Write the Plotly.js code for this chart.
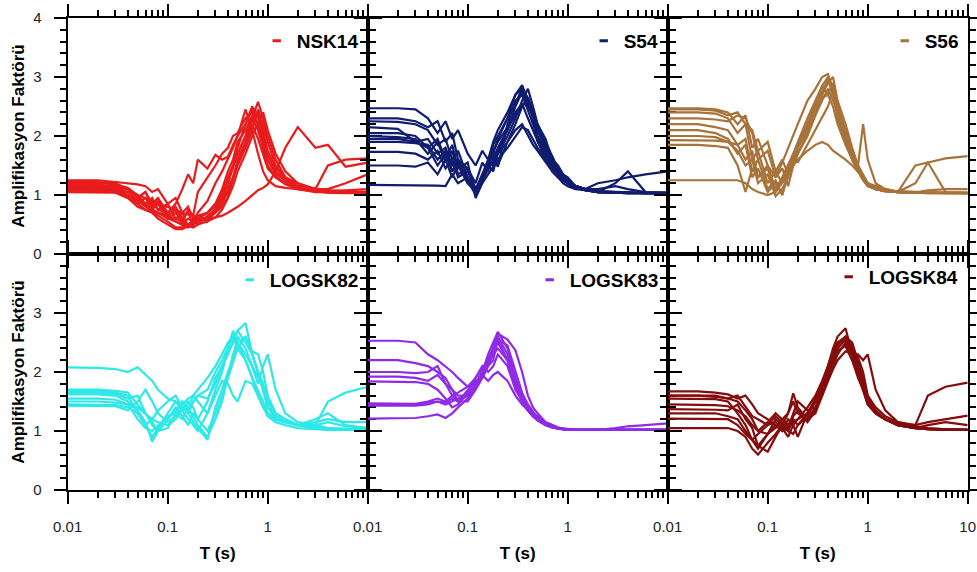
<!DOCTYPE html>
<html>
<head>
<meta charset="utf-8">
<script src="https://cdn.plot.ly/plotly-3.0.1.min.js"></script>
<style>html,body{margin:0;padding:0;background:#fff}#chart{width:977px;height:572px}</style>
</head>
<body>
<div id="chart"></div>
<script>
// Period grid (s)
const T = [0.01,0.02,0.03,0.04,0.05,0.06,0.07,0.08,0.1,0.12,0.14,0.16,0.18,0.2,0.25,0.3,0.35,0.4,0.45,0.5,0.6,0.7,0.8,0.9,1,1.2,1.5,2,3,4,6,10];

const stations = ["NSK14","S54","S56","LOGSK82","LOGSK83","LOGSK84"];
const colors = ["#e81c1c","#101c6e","#a8733a","#2ee8e8","#8f2be6","#850c0c"];

const NSK14 = [
 [1.22,1.22,1.2,1.1,0.95,0.85,0.9,0.75,0.7,0.85,1.1,1.35,1.2,1.6,1.45,1.68,1.6,1.65,1.85,2.0,2.45,2.1,1.7,1.4,1.25,1.15,1.12,1.1,1.05,1.05,1.04,1.03],
 [1.12,1.12,1.1,1.0,0.85,0.95,0.75,0.85,0.6,0.7,0.55,0.75,0.65,1.05,1.3,1.5,1.7,1.8,2.0,2.05,2.3,2.4,2.2,1.8,1.5,1.3,1.2,1.1,1.08,1.05,1.04,1.03],
 [1.18,1.17,1.15,1.12,0.95,1.05,0.8,0.9,0.65,0.75,0.5,0.6,0.55,0.7,0.9,1.2,1.4,1.6,1.8,2.0,2.2,2.5,2.35,2.0,1.7,1.4,1.25,1.15,1.1,1.08,1.06,1.05],
 [1.08,1.08,1.06,1.0,0.9,0.8,0.72,0.65,0.55,0.45,0.45,0.5,0.55,0.6,0.7,0.85,1.05,1.3,1.5,1.7,2.0,2.3,2.58,2.3,2.0,1.6,1.3,1.15,1.1,1.05,1.04,1.03],
 [1.2,1.2,1.18,1.12,1.0,0.85,0.95,0.75,0.85,0.6,0.7,0.45,0.6,0.5,0.65,0.75,0.9,1.1,1.3,1.5,1.8,2.1,2.45,2.2,1.9,1.5,1.3,1.2,1.1,1.06,1.05,1.04],
 [1.05,1.05,1.04,0.95,0.85,0.75,0.7,0.6,0.5,0.42,0.42,0.48,0.52,0.55,0.6,0.7,0.8,0.95,1.15,1.4,1.7,2.0,2.2,2.4,2.1,1.7,1.4,1.2,1.1,1.06,1.05,1.04],
 [1.1,1.1,1.08,1.05,1.0,0.95,0.9,0.85,0.8,0.75,0.7,0.68,0.65,0.62,0.6,0.62,0.65,0.7,0.75,0.8,0.9,1.0,1.08,1.12,1.18,1.4,1.8,2.15,1.8,1.85,1.48,1.55],
 [1.15,1.15,1.12,1.05,0.9,0.85,0.75,0.7,0.65,0.6,0.55,0.5,0.55,0.6,0.7,0.8,1.0,1.2,1.45,1.7,2.0,2.3,2.1,1.8,1.5,1.3,1.2,1.12,1.1,1.5,1.6,1.62],
 [1.1,1.1,1.05,0.95,0.8,0.75,0.7,0.7,0.65,0.55,0.5,0.45,0.5,0.55,0.6,0.75,0.95,1.2,1.5,1.8,2.2,2.45,2.3,2.0,1.7,1.4,1.25,1.12,1.1,1.1,1.2,1.35],
 [1.25,1.25,1.22,1.2,1.18,1.15,1.05,1.1,0.85,0.95,0.7,0.8,0.6,0.65,0.7,0.85,1.1,1.4,1.6,1.9,2.1,2.35,2.2,1.9,1.6,1.35,1.25,1.15,1.08,1.06,1.05,1.05],
 [1.08,1.07,1.05,0.98,0.9,0.82,0.75,0.7,0.6,0.55,0.5,0.48,0.45,0.5,0.55,0.62,0.75,0.95,1.25,1.55,1.85,2.2,1.95,1.7,1.45,1.3,1.18,1.1,1.06,1.04,1.03,1.03],
 [1.15,1.14,1.12,1.1,0.95,1.05,0.85,0.95,0.7,0.8,0.6,0.7,0.5,0.6,0.55,0.72,0.85,1.05,1.3,1.6,1.9,2.25,2.4,2.1,1.75,1.45,1.3,1.15,1.1,1.07,1.08,1.1]
];

const S54 = [
 [2.47,2.47,2.45,2.3,2.05,2.25,1.95,2.1,1.7,1.5,1.75,1.6,1.9,2.1,2.4,2.7,2.86,2.6,2.3,2.0,1.75,1.4,1.3,1.2,1.15,1.1,1.08,1.05,1.04,1.03,1.03,1.03],
 [2.3,2.3,2.25,2.15,2.25,1.9,2.05,1.6,1.45,1.2,1.55,1.4,1.85,2.0,2.3,2.55,2.8,2.5,2.35,1.9,1.7,1.5,1.45,1.25,1.2,1.15,1.1,1.06,1.05,1.04,1.03,1.03],
 [2.25,2.24,2.2,2.1,1.85,1.95,1.6,1.75,1.3,1.05,1.35,1.6,1.5,1.75,2.1,2.5,2.75,2.6,2.3,2.1,1.8,1.55,1.4,1.3,1.25,1.15,1.1,1.05,1.05,1.04,1.03,1.03],
 [2.05,2.05,2.0,1.8,1.95,1.6,1.85,1.45,1.55,0.95,1.2,1.5,1.4,1.7,2.0,2.3,2.6,2.8,2.5,2.2,1.95,1.6,1.5,1.35,1.25,1.15,1.1,1.06,1.05,1.04,1.03,1.03],
 [2.0,1.98,1.95,1.7,1.9,1.55,1.75,1.35,1.45,1.1,1.35,1.5,1.75,1.5,1.9,2.2,2.5,2.6,2.4,2.1,1.8,1.65,1.4,1.3,1.2,1.12,1.08,1.05,1.2,1.4,1.05,1.04],
 [1.95,1.95,1.9,1.8,1.5,1.7,1.4,1.6,1.25,1.05,1.25,1.45,1.6,1.8,2.1,2.4,2.55,2.3,2.1,1.9,1.6,1.5,1.3,1.25,1.2,1.15,1.1,1.2,1.25,1.3,1.35,1.4],
 [1.73,1.73,1.7,1.6,1.75,1.45,1.6,1.3,1.4,1.1,1.3,1.55,1.65,1.48,2.2,2.6,2.7,2.45,2.2,1.95,1.65,1.55,1.35,1.25,1.2,1.12,1.08,1.05,1.04,1.03,1.03,1.03],
 [1.5,1.5,1.48,1.55,1.35,1.6,1.3,1.5,1.2,1.05,1.2,1.35,1.5,1.6,1.8,2.0,2.15,2.1,1.95,1.8,1.6,1.45,1.35,1.28,1.2,1.12,1.08,1.05,1.04,1.03,1.03,1.03],
 [1.17,1.17,1.17,1.17,1.16,1.15,1.35,1.2,1.3,1.1,1.3,1.45,1.55,1.7,1.9,2.1,2.2,2.0,1.85,1.75,1.55,1.4,1.3,1.25,1.2,1.12,1.08,1.05,1.04,1.03,1.03,1.03],
 [2.15,2.12,1.9,1.95,1.7,1.8,1.5,1.6,1.25,1.0,1.25,1.55,1.75,1.9,2.15,2.35,2.5,2.65,2.4,2.15,1.85,1.6,1.45,1.3,1.22,1.15,1.1,1.06,1.05,1.04,1.03,1.03],
 [1.9,1.9,1.88,1.85,1.6,1.75,1.4,1.55,1.2,1.1,1.3,1.55,1.7,1.95,2.3,2.7,2.8,2.65,2.4,2.2,1.9,1.65,1.45,1.35,1.3,1.15,1.1,1.1,1.15,1.1,1.05,1.04]
];

const S56 = [
 [2.47,2.47,2.45,2.4,2.2,2.35,1.8,1.95,1.5,1.3,1.55,1.8,2.0,2.2,2.6,2.8,3.0,3.05,2.8,2.5,2.0,1.6,1.4,1.25,1.15,1.1,1.07,1.05,1.04,1.04,1.03,1.03],
 [2.45,2.45,2.43,2.35,2.4,2.2,2.1,1.75,1.9,1.4,1.6,1.35,1.7,1.9,2.3,2.6,2.85,2.7,2.9,2.4,2.1,1.7,1.45,1.3,1.2,1.1,1.07,1.05,1.5,1.55,1.62,1.66],
 [2.4,2.4,2.38,2.3,2.05,2.2,1.6,1.75,1.2,1.4,1.2,1.45,1.6,1.85,2.2,2.55,2.75,2.95,2.7,2.3,1.9,1.6,1.4,1.25,1.15,1.1,1.07,1.05,1.04,1.04,1.03,1.03],
 [2.2,2.2,2.15,2.1,1.85,1.95,1.4,1.6,1.1,1.25,1.0,1.35,1.55,1.8,2.1,2.4,2.7,2.9,3.0,2.6,2.2,1.8,1.5,1.35,1.2,1.1,1.06,1.05,1.2,1.55,1.05,1.04],
 [2.1,2.1,2.05,1.95,1.7,1.85,1.3,1.45,1.05,1.2,1.0,1.4,1.5,1.7,2.0,2.35,2.6,2.8,2.6,2.4,2.0,1.7,1.5,2.2,1.6,1.2,1.1,1.06,1.05,1.04,1.04,1.03],
 [1.93,1.93,1.92,1.9,1.85,1.6,1.75,1.3,1.45,1.05,1.25,1.45,1.65,1.85,2.2,2.5,2.65,2.7,2.5,2.2,1.85,1.6,1.4,1.3,1.2,1.12,1.08,1.05,1.04,1.03,1.03,1.03],
 [1.85,1.85,1.83,1.8,1.5,1.05,1.45,1.3,1.5,1.1,1.3,1.5,1.7,1.55,1.85,2.1,2.3,2.5,2.75,2.5,2.0,1.75,1.5,1.35,1.2,1.1,1.07,1.05,1.04,1.08,1.1,1.1],
 [1.25,1.25,1.25,1.25,1.25,1.2,1.1,1.05,1.0,1.05,1.2,1.35,1.5,1.6,1.75,1.85,1.9,1.85,1.75,1.7,1.6,1.5,1.4,1.3,1.2,1.15,1.1,1.06,1.05,1.04,1.04,1.04],
 [2.3,2.3,2.28,2.25,2.35,2.3,2.05,1.6,1.75,1.3,1.45,1.15,1.5,1.7,2.05,2.4,2.7,2.95,2.8,2.5,2.1,1.75,1.5,1.3,1.2,1.1,1.07,1.05,1.04,1.03,1.03,1.03],
 [2.0,2.0,1.98,1.9,1.75,1.5,1.6,1.2,1.35,0.98,1.1,1.3,1.55,1.8,2.15,2.5,2.85,3.0,2.75,2.35,1.95,1.65,1.45,1.3,1.2,1.1,1.06,1.05,1.04,1.03,1.03,1.03]
];

const LOGSK82 = [
 [2.08,2.07,2.05,2.0,2.08,1.95,1.85,1.7,1.55,1.5,1.45,1.55,1.6,1.7,1.9,2.1,2.3,2.5,2.6,2.4,2.2,1.9,1.6,1.4,1.3,1.2,1.15,1.1,1.1,1.5,1.65,1.75],
 [1.7,1.7,1.68,1.65,1.45,1.3,1.1,1.0,1.2,1.4,1.25,1.1,1.3,1.2,1.5,1.9,2.1,2.3,2.5,2.7,2.83,2.3,2.0,1.7,1.4,1.25,1.15,1.1,1.08,1.05,1.04,1.03],
 [1.68,1.68,1.65,1.6,1.3,1.1,1.2,1.35,1.5,1.6,1.4,1.3,1.5,1.6,1.7,2.0,2.2,2.4,2.6,2.5,2.2,1.9,1.7,1.5,1.3,1.2,1.15,1.1,1.2,1.3,1.1,1.05],
 [1.62,1.62,1.6,1.5,1.35,1.15,0.82,1.0,1.2,1.35,1.5,1.3,1.15,1.05,0.85,1.4,1.7,2.0,2.2,2.6,2.4,2.1,1.9,1.75,1.5,1.25,1.15,1.1,1.05,1.03,1.02,1.02],
 [1.55,1.55,1.53,1.45,1.2,1.05,1.0,1.1,1.25,1.3,1.2,1.4,1.6,1.5,1.3,1.7,2.0,2.4,2.7,2.5,2.3,2.1,1.8,2.1,2.3,1.7,1.3,1.15,1.1,1.05,1.03,1.02],
 [1.5,1.5,1.48,1.45,1.4,1.3,1.2,1.15,1.1,1.2,1.35,1.5,1.4,1.2,1.0,1.3,1.6,1.9,2.2,2.4,2.6,2.3,2.0,1.7,1.4,1.2,1.15,1.1,1.15,1.2,1.15,1.15],
 [1.45,1.45,1.44,1.4,1.3,1.1,0.9,1.05,1.3,1.5,1.35,1.2,1.1,1.0,1.3,1.6,1.85,1.8,1.6,1.5,1.85,1.8,1.6,1.4,1.25,1.15,1.1,1.05,1.03,1.02,1.02,1.02],
 [1.43,1.43,1.42,1.35,1.5,1.7,1.5,1.3,1.15,1.25,1.4,1.3,1.5,1.6,1.55,1.8,2.1,2.3,2.5,2.7,2.5,2.3,2.0,1.8,1.5,1.3,1.2,1.1,1.05,1.03,1.02,1.02],
 [1.65,1.65,1.63,1.55,1.6,1.3,1.15,1.0,1.05,1.3,1.5,1.4,1.25,1.1,0.9,1.2,1.5,1.9,2.3,2.5,2.6,2.35,2.3,2.0,1.6,1.3,1.2,1.1,1.1,1.15,1.08,1.05]
];

const LOGSK83 = [
 [2.53,2.53,2.5,2.3,2.2,2.1,2.0,1.9,1.75,1.8,2.0,2.2,2.4,2.6,2.3,1.8,1.5,1.35,1.25,1.2,1.12,1.08,1.05,1.04,1.03,1.02,1.02,1.02,1.02,1.02,1.02,1.02],
 [2.2,2.2,2.15,2.1,2.0,1.9,1.7,1.6,1.6,1.8,2.0,2.3,2.5,2.68,2.4,1.9,1.6,1.45,1.3,1.25,1.15,1.1,1.06,1.04,1.03,1.02,1.02,1.02,1.02,1.02,1.02,1.02],
 [2.0,2.0,1.98,2.0,2.1,1.8,1.7,1.5,1.5,1.7,1.9,2.1,2.3,2.4,2.2,1.8,1.55,1.4,1.3,1.2,1.12,1.07,1.05,1.03,1.02,1.02,1.02,1.02,1.02,1.02,1.02,1.02],
 [1.92,1.92,1.9,1.85,1.95,1.8,1.6,1.5,1.6,1.8,2.0,2.2,2.4,2.65,2.55,2.37,2.0,1.6,1.4,1.3,1.15,1.1,1.06,1.04,1.03,1.02,1.02,1.02,1.02,1.02,1.02,1.02],
 [1.84,1.84,1.83,1.8,1.7,1.55,1.4,1.45,1.65,1.9,2.1,2.0,2.1,2.3,2.1,1.7,1.5,1.35,1.25,1.18,1.1,1.06,1.04,1.03,1.02,1.02,1.02,1.02,1.02,1.02,1.02,1.02],
 [1.47,1.47,1.46,1.5,1.55,1.5,1.6,1.65,1.75,1.9,2.05,2.2,2.35,2.5,2.2,1.85,1.55,1.4,1.3,1.2,1.12,1.07,1.05,1.03,1.02,1.02,1.02,1.02,1.05,1.08,1.1,1.13],
 [1.45,1.45,1.45,1.48,1.5,1.45,1.5,1.55,1.6,1.8,1.95,1.85,1.95,2.0,1.85,1.6,1.45,1.35,1.25,1.18,1.1,1.06,1.04,1.03,1.02,1.02,1.02,1.02,1.02,1.02,1.02,1.02],
 [1.43,1.43,1.43,1.45,1.5,1.48,1.55,1.5,1.7,1.85,1.9,2.1,2.2,2.55,2.45,2.0,1.65,1.45,1.32,1.22,1.12,1.07,1.05,1.03,1.02,1.02,1.02,1.02,1.02,1.02,1.02,1.02],
 [1.21,1.21,1.22,1.25,1.28,1.22,1.3,1.4,1.55,1.75,1.95,2.15,2.35,2.55,2.2,1.75,1.5,1.35,1.25,1.18,1.1,1.06,1.04,1.03,1.02,1.02,1.02,1.02,1.02,1.02,1.02,1.02]
];

const LOGSK84 = [
 [1.67,1.67,1.65,1.62,1.55,1.6,1.45,1.3,1.2,1.1,1.0,1.05,1.15,1.2,1.3,1.5,1.8,2.1,2.4,2.6,2.74,2.3,2.0,1.7,1.5,1.3,1.2,1.1,1.05,1.03,1.02,1.02],
 [1.6,1.6,1.6,1.55,1.5,1.35,1.2,1.0,0.95,1.2,1.1,1.3,1.5,1.3,1.2,1.4,1.7,2.0,2.3,2.5,2.6,2.5,2.2,1.9,1.6,1.4,1.25,1.15,1.1,1.6,1.75,1.82],
 [1.55,1.55,1.54,1.5,1.3,1.1,0.85,0.7,0.95,1.05,1.2,1.3,1.64,1.4,1.2,1.3,1.6,1.9,2.2,2.4,2.55,2.35,2.1,1.8,1.5,1.3,1.2,1.12,1.1,1.15,1.2,1.26],
 [1.37,1.37,1.36,1.35,1.45,1.2,1.05,0.75,0.65,0.9,1.1,1.0,1.2,1.1,1.3,1.55,1.8,2.0,2.2,2.35,2.45,2.2,1.9,1.7,1.45,1.3,1.2,1.1,1.05,1.03,1.02,1.02],
 [1.3,1.3,1.3,1.25,1.2,1.0,0.85,0.95,1.1,1.25,1.15,1.05,1.3,1.5,1.35,1.4,1.6,1.9,2.1,2.3,2.5,2.3,2.3,2.2,2.3,1.7,1.35,1.15,1.08,1.05,1.03,1.02],
 [1.21,1.21,1.21,1.2,1.1,0.95,0.85,0.75,0.95,1.1,1.0,1.2,1.1,0.9,1.3,1.5,1.7,2.0,2.2,2.35,2.45,2.2,1.95,1.7,1.45,1.3,1.2,1.1,1.05,1.1,1.15,1.1],
 [1.05,1.05,1.05,1.05,1.0,0.9,0.7,0.6,0.8,0.95,1.1,1.0,0.95,1.1,1.25,1.5,1.75,2.0,2.25,2.45,2.6,2.45,2.1,1.8,1.5,1.3,1.2,1.1,1.05,1.03,1.02,1.02],
 [1.6,1.6,1.58,1.55,1.6,1.4,1.25,1.2,1.1,1.15,1.05,0.9,1.1,1.2,1.4,1.6,1.85,2.1,2.35,2.5,2.55,2.4,2.25,2.0,1.6,1.35,1.2,1.12,1.06,1.04,1.03,1.02],
 [1.45,1.45,1.44,1.42,1.35,1.25,1.1,1.0,1.15,1.3,1.2,1.1,1.25,1.35,1.15,1.35,1.6,1.85,2.05,2.2,2.35,2.3,2.05,1.8,1.55,1.3,1.2,1.1,1.05,1.03,1.02,1.02]
];

const xTickVals = [0.01, 0.1, 1, 10];
const xTickTextInner = ["0.01", "0.1", "1", ""];
const xTickTextLast = ["0.01", "0.1", "1", "10"];
const yTickVals = [0, 1, 2, 3, 4];
const yTickTextTop = ["0", "1", "2", "3", "4"];
const yTickTextBottom = ["0", "1", "2", "3", ""];
const yTitle = "Amplifikasyon Faktörü";
const xTitle = "T (s)";

const panels = [NSK14, S54, S56, LOGSK82, LOGSK83, LOGSK84];

const FONT = "Liberation Sans, Arial, sans-serif";
const W = 977, H = 572;
const colPx = [[67.7, 367.7], [367.7, 667.7], [667.7, 967.7]];
const rowPx = [[18, 254], [254, 490]];

const traces = [];
const layout = {
  width: W, height: H,
  margin: {l: 0, r: 0, t: 0, b: 0},
  paper_bgcolor: "#fff", plot_bgcolor: "#fff",
  font: {family: FONT, color: "#000"},
  showlegend: true
};

panels.forEach((curves, p) => {
  const k = p + 1;
  const xa = k === 1 ? "x" : "x" + k;
  const ya = k === 1 ? "y" : "y" + k;
  const lg = k === 1 ? "legend" : "legend" + k;
  curves.forEach(vals => {
    traces.push({
      type: "scatter", mode: "lines", x: T, y: vals,
      xaxis: xa, yaxis: ya, showlegend: false,
      line: {color: colors[p], width: 2.2}, hoverinfo: "skip"
    });
  });
  // legend key
  traces.push({
    type: "scatter", mode: "markers", x: [null], y: [null],
    xaxis: xa, yaxis: ya, name: stations[p], legend: lg, showlegend: true,
    marker: {symbol: "line-ew", size: 6, color: colors[p], line: {color: colors[p], width: 3}}
  });

  const col = p % 3, row = Math.floor(p / 3);
  const isBottom = row === 1, isLeft = col === 0, isLast = col === 2;
  const xKey = k === 1 ? "xaxis" : "xaxis" + k;
  const yKey = k === 1 ? "yaxis" : "yaxis" + k;
  layout[xKey] = {
    type: "log", range: [-2, 1], domain: [colPx[col][0] / W, colPx[col][1] / W],
    anchor: ya, tickmode: "array", tickvals: xTickVals,
    ticktext: isLast ? xTickTextLast : xTickTextInner,
    showticklabels: isBottom, ticks: "outside", ticklen: 12, tickwidth: 2, tickcolor: "#000",
    minor: {ticks: "outside", ticklen: 6, tickwidth: 2, tickcolor: "#000", dtick: "D1", showgrid: false},
    showline: true, linewidth: 2, linecolor: "#000", mirror: "ticks",
    showgrid: false, zeroline: false, ticklabelstandoff: 10,
    tickfont: {size: 15, color: "#222", family: FONT},
    title: isBottom ? {text: xTitle, font: {size: 17, weight: "bold", family: FONT}, standoff: 13} : {text: ""}
  };
  layout[yKey] = {
    range: [0, 4], domain: [1 - rowPx[row][1] / H, 1 - rowPx[row][0] / H],
    anchor: xa, tickmode: "array", tickvals: yTickVals,
    ticktext: isBottom ? yTickTextBottom : yTickTextTop,
    showticklabels: isLeft, ticks: "outside", ticklen: 12, tickwidth: 2, tickcolor: "#000",
    minor: {ticks: "outside", ticklen: 6, tickwidth: 2, tickcolor: "#000", dtick: 0.2, showgrid: false},
    showline: true, linewidth: 2, linecolor: "#000", mirror: "ticks",
    showgrid: false, zeroline: false, ticklabelstandoff: 9,
    tickfont: {size: 15, color: "#222", family: FONT},
    title: isLeft ? {text: yTitle, font: {size: 17, weight: "bold", family: FONT}, standoff: 4} : {text: ""}
  };
  const legY = [41, 41, 41, 280, 280, 277][p];
  layout[lg] = {
    x: (colPx[col][1] - 4) / W, xanchor: "right",
    y: 1 - legY / H, yanchor: "middle",
    bgcolor: "rgba(0,0,0,0)", borderwidth: 0,
    font: {size: 19, weight: "bold", family: FONT, color: "#000"},
    itemwidth: 30, tracegroupgap: 0
  };
});

Plotly.newPlot("chart", traces, layout, {staticPlot: true, displayModeBar: false});
</script>
</body>
</html>
